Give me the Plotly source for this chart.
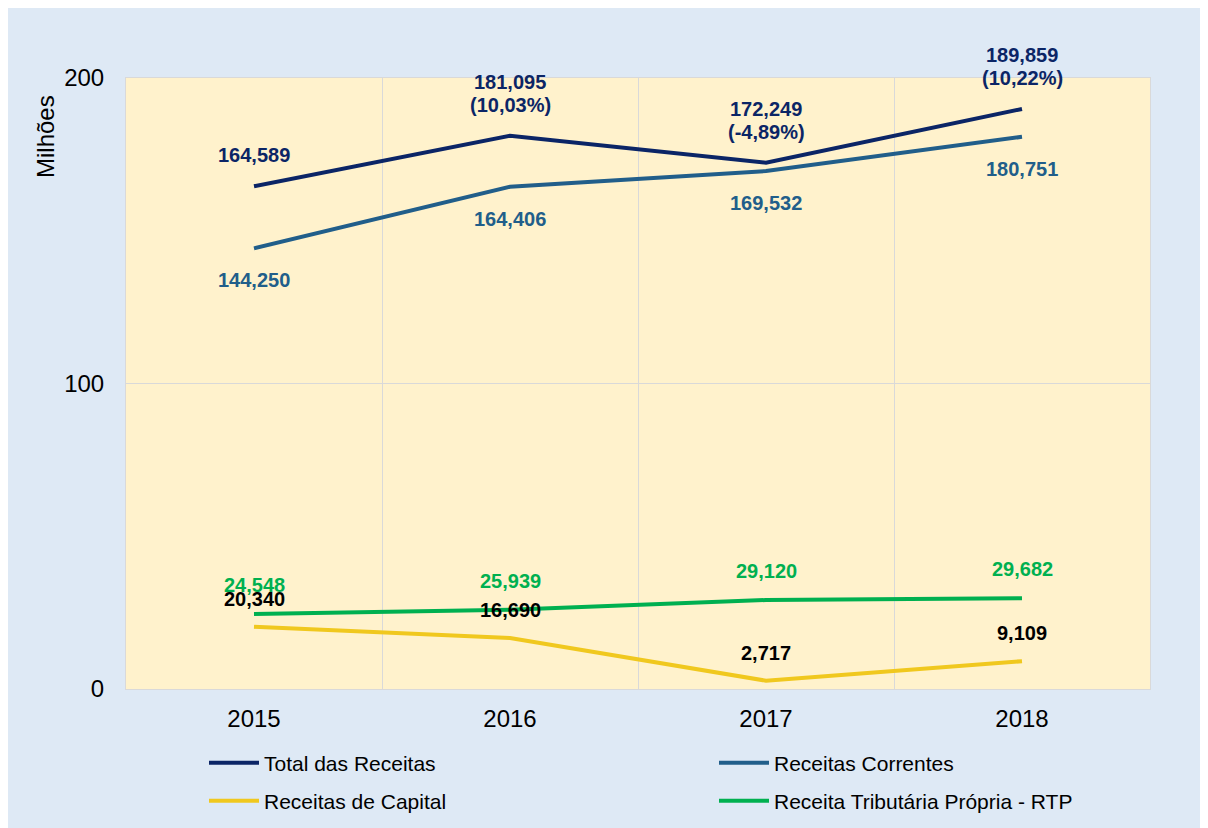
import plotly.graph_objects as go

years = ["2015", "2016", "2017", "2018"]
total = [164.589, 181.095, 172.249, 189.859]
correntes = [144.250, 164.406, 169.532, 180.751]
capital = [20.340, 16.690, 2.717, 9.109]
rtp = [24.548, 25.939, 29.120, 29.682]
total_labels = ["164,589", "181,095", "172,249", "189,859"]
total_pct = ["", "(10,03%)", "(-4,89%)", "(10,22%)"]
correntes_labels = ["144,250", "164,406", "169,532", "180,751"]
capital_labels = ["20,340", "16,690", "2,717", "9,109"]
rtp_labels = ["24,548", "25,939", "29,120", "29,682"]

C_TOTAL = "#0B2566"
C_CORR = "#215E8A"
C_CAP = "#F0C81E"
C_RTP = "#00B050"
FONT = "Liberation Sans, Arial, sans-serif"
LBL = 20

xs = list(range(len(years)))

fig = go.Figure()
fig.add_trace(go.Scatter(x=xs, y=total, mode="lines", name="Total das Receitas",
                         line=dict(color=C_TOTAL, width=4), legend="legend", showlegend=True))
fig.add_trace(go.Scatter(x=xs, y=correntes, mode="lines", name="Receitas Correntes",
                         line=dict(color=C_CORR, width=4), legend="legend2", showlegend=True))
fig.add_trace(go.Scatter(x=xs, y=capital, mode="lines", name="Receitas de Capital",
                         line=dict(color=C_CAP, width=4), legend="legend3", showlegend=True))
fig.add_trace(go.Scatter(x=xs, y=rtp, mode="lines", name="Receita Tributária Própria - RTP",
                         line=dict(color=C_RTP, width=4), legend="legend4", showlegend=True))

def lab(x, y, text, color, shift):
    return dict(x=x, y=y, text=text, showarrow=False, yanchor="middle", yshift=shift,
                font=dict(family=FONT, size=LBL, color=color, weight="bold"))

ann = []
for i in xs:
    if total_pct[i]:
        ann.append(lab(i, total[i], total_pct[i], C_TOTAL, 31))
        ann.append(lab(i, total[i], total_labels[i], C_TOTAL, 54))
    else:
        ann.append(lab(i, total[i], total_labels[i], C_TOTAL, 31))
    ann.append(lab(i, correntes[i], correntes_labels[i], C_CORR, -32))
    ann.append(lab(i, rtp[i], rtp_labels[i], C_RTP, 29))
    ann.append(lab(i, capital[i], capital_labels[i], "#000000", 28))

W, H = 1208, 828
L, R, T, B = 118, 66, 70, 147
pw, ph = W - L - R, H - T - B

ann.append(dict(xref="paper", yref="paper", x=(37 - L) / pw, y=(H - B - 129) / ph,
                text="Milhões", textangle=-90, showarrow=False,
                xanchor="center", yanchor="middle",
                font=dict(family=FONT, size=24, color="#000000")))

def leg(xpx, ypx):
    return dict(orientation="h", x=(xpx - 4 - L) / pw, xanchor="left",
                y=(H - B - ypx) / ph, yanchor="middle",
                bgcolor="rgba(0,0,0,0)", font=dict(size=21, color="#000000"),
                itemwidth=50)

fig.update_layout(
    width=W, height=H,
    showlegend=True,
    margin=dict(l=L, r=R, t=T, b=B),
    paper_bgcolor="#DEE9F5",
    plot_bgcolor="#FFF2CC",
    font=dict(family=FONT, size=24, color="#000000"),
    annotations=ann,
    xaxis=dict(range=[-0.5, 3.5], tickmode="array", tickvals=xs, ticktext=years,
               showgrid=False, zeroline=False, showline=True, mirror=True,
               linecolor="#D9D9D9", linewidth=1, ticks="", ticklabelstandoff=8,
               tickfont=dict(size=24, color="#000000"),
               minor=dict(tickmode="array", tickvals=[0.5, 1.5, 2.5], showgrid=True,
                          gridcolor="#D9D9D9", gridwidth=1, ticks="")),
    yaxis=dict(range=[0, 200], tickvals=[0, 100, 200], showgrid=True,
               gridcolor="#D9D9D9", gridwidth=1, zeroline=False, showline=True,
               mirror=True, linecolor="#D9D9D9", linewidth=1, ticks="",
               ticklabelstandoff=16, tickfont=dict(size=24, color="#000000")),
    legend=leg(200, 755),
    legend2=leg(710, 755),
    legend3=leg(200, 793),
    legend4=leg(710, 793),
)

fig.write_html("out.html",
               post_script="document.documentElement.style.overflow='hidden';document.body.style.overflow='hidden';")
